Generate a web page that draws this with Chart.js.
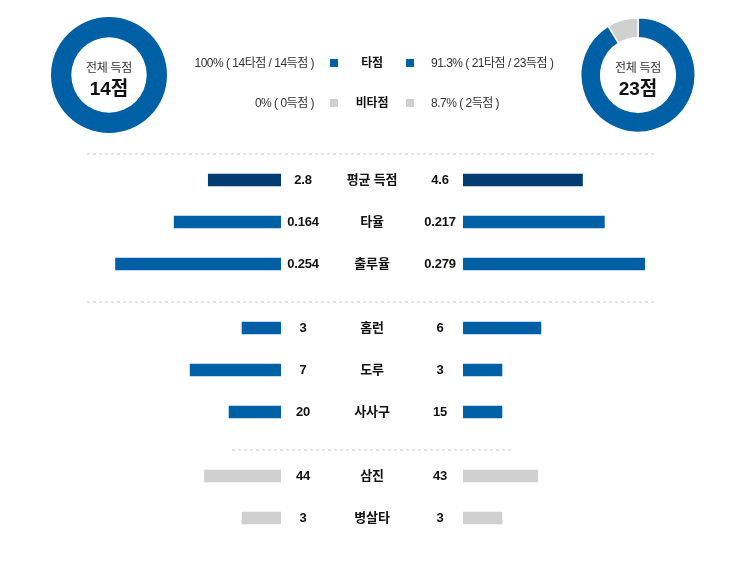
<!DOCTYPE html>
<html>
<head>
<meta charset="utf-8">
<script src="https://cdn.jsdelivr.net/npm/chart.js@4"></script>
<style>
  html, body { margin: 0; padding: 0; background: #fff; }
  body { width: 742px; height: 569px; position: relative; overflow: hidden;
         font-family: "Liberation Sans", Arial, "Noto Sans CJK KR", sans-serif; color: #222; }
  .abs { position: absolute; }
  .donut-text { position: absolute; width: 116px; text-align: center; }
  .donut-text .t1 { font-size: 12px; color: #333; line-height: 14px; letter-spacing: -0.3px; }
  .donut-text .t2 { font-size: 19px; font-weight: bold; color: #111; line-height: 20px; margin-top: 4px; }
  .leg { position: absolute; font-size: 12px; color: #333; line-height: 16px; white-space: nowrap;
         letter-spacing: -0.5px; }
  .sq { position: absolute; width: 8px; height: 8px; }
  .lab { position: absolute; font-size: 13px; font-weight: bold; color: #111; line-height: 16px;
         text-align: center; white-space: nowrap; letter-spacing: -0.2px; }
  .sep { position: absolute; height: 2px;
         background: repeating-linear-gradient(to right, #e4e4e4 0 3px, transparent 3px 6px); }
</style>
</head>
<body>
<script>
// donut: 타점 / 비타점 of total runs
const donutLabels = ['타점', '비타점'];
const homeRuns = [14, 0];
const awayRuns = [21, 2];

// comparison rows
const rowLabels = ['평균 득점', '타율', '출루율', '홈런', '도루', '사사구', '삼진', '병살타'];
const homeValues = [2.8, 0.164, 0.254, 3, 7, 20, 44, 3];
const awayValues = [4.6, 0.217, 0.279, 6, 3, 15, 43, 3];
const rowScaleMax = [7.7, 0.307, 0.307, 15.4, 15.4, 77, 115, 15.4];
const rowKinds = ['dark', 'blue', 'blue', 'blue', 'blue', 'blue', 'grey', 'grey'];
const groupSizes = [3, 3, 2];

const colors = { dark: '#023c72', blue: '#0060a5', grey: '#d0d0d0' };

Chart.defaults.animation = false;
Chart.defaults.plugins.legend.display = false;
Chart.defaults.plugins.tooltip.enabled = false;

function el(tag, cls, style, text) {
  const e = document.createElement(tag);
  if (cls) e.className = cls;
  Object.assign(e.style, style || {});
  if (text !== undefined) e.textContent = text;
  document.body.appendChild(e);
  return e;
}

function pct(v, total) {
  return String(+(v / total * 100).toFixed(1));
}

function makeDonut(cx, cy, values) {
  const size = 116;
  const cv = el('canvas', 'abs', { left: (cx - size / 2) + 'px', top: (cy - size / 2) + 'px' });
  cv.width = size; cv.height = size;
  new Chart(cv, {
    type: 'doughnut',
    data: {
      labels: donutLabels,
      datasets: [{
        data: values,
        backgroundColor: [colors.blue, colors.grey],
        borderColor: '#fff',
        borderWidth: values[1] === 0 ? 0 : 1.5,
      }],
    },
    options: {
      responsive: false,
      cutout: '65%',
      layout: { padding: 0 },
    },
  });
  const total = values[0] + values[1];
  const box = el('div', 'donut-text', { left: (cx - size / 2) + 'px', top: (cy - 14) + 'px' });
  const a = document.createElement('div'); a.className = 't1'; a.textContent = '전체 득점';
  const b = document.createElement('div'); b.className = 't2'; b.textContent = total + '점';
  box.appendChild(a); box.appendChild(b);
}

makeDonut(109, 75, homeRuns);
makeDonut(638, 75, awayRuns);

// legend in the middle
const homeTotal = homeRuns[0] + homeRuns[1];
const awayTotal = awayRuns[0] + awayRuns[1];
const legendRows = [
  {
    y: 63, color: colors.blue, label: donutLabels[0],
    left: pct(homeRuns[0], homeTotal) + '% ( ' + homeRuns[0] + '타점 / ' + homeTotal + '득점 )',
    right: pct(awayRuns[0], awayTotal) + '% ( ' + awayRuns[0] + '타점 / ' + awayTotal + '득점 )',
  },
  {
    y: 103, color: colors.grey, label: donutLabels[1],
    left: pct(homeRuns[1], homeTotal) + '% ( ' + homeRuns[1] + '득점 )',
    right: pct(awayRuns[1], awayTotal) + '% ( ' + awayRuns[1] + '득점 )',
  },
];
legendRows.forEach(r => {
  el('div', 'leg', { right: (742 - 314) + 'px', top: (r.y - 8) + 'px', textAlign: 'right' }, r.left);
  el('div', 'sq', { left: '330px', top: (r.y - 4) + 'px', background: r.color });
  el('div', 'lab', { left: '332px', width: '80px', top: (r.y - 8) + 'px', fontSize: '12px' }, r.label);
  el('div', 'sq', { left: '406px', top: (r.y - 4) + 'px', background: r.color });
  el('div', 'leg', { left: '431px', top: (r.y - 8) + 'px' }, r.right);
});

// dotted separators
el('div', 'sep', { left: '87px', width: '569px', top: '153px' });
el('div', 'sep', { left: '87px', width: '569px', top: '301px' });
el('div', 'sep', { left: '232px', width: '280px', top: '449px' });

function makeBar(x, y, value, max, color, reverse) {
  const cv = el('canvas', 'abs', { left: x + 'px', top: (y - 8) + 'px' });
  cv.width = 200; cv.height = 16;
  new Chart(cv, {
    type: 'bar',
    data: { labels: [''], datasets: [{ data: [value], backgroundColor: color, barThickness: 12 }] },
    options: {
      indexAxis: 'y',
      responsive: false,
      layout: { padding: 0 },
      scales: {
        x: { display: false, min: 0, max: max, reverse: reverse },
        y: { display: false },
      },
    },
  });
}

// rows
const groupStart = [180, 328, 476];
let idx = 0;
groupSizes.forEach((n, g) => {
  for (let k = 0; k < n; k++, idx++) {
    const y = groupStart[g] + k * 42;
    const c = colors[rowKinds[idx]];
    makeBar(81, y, homeValues[idx], rowScaleMax[idx], c, true);
    makeBar(463, y, awayValues[idx], rowScaleMax[idx], c, false);
    el('div', 'lab', { left: '263px', width: '80px', top: (y - 8) + 'px' }, String(homeValues[idx]));
    el('div', 'lab', { left: '322px', width: '100px', top: (y - 8) + 'px' }, rowLabels[idx]);
    el('div', 'lab', { left: '400px', width: '80px', top: (y - 8) + 'px' }, String(awayValues[idx]));
  }
});
</script>
</body>
</html>
